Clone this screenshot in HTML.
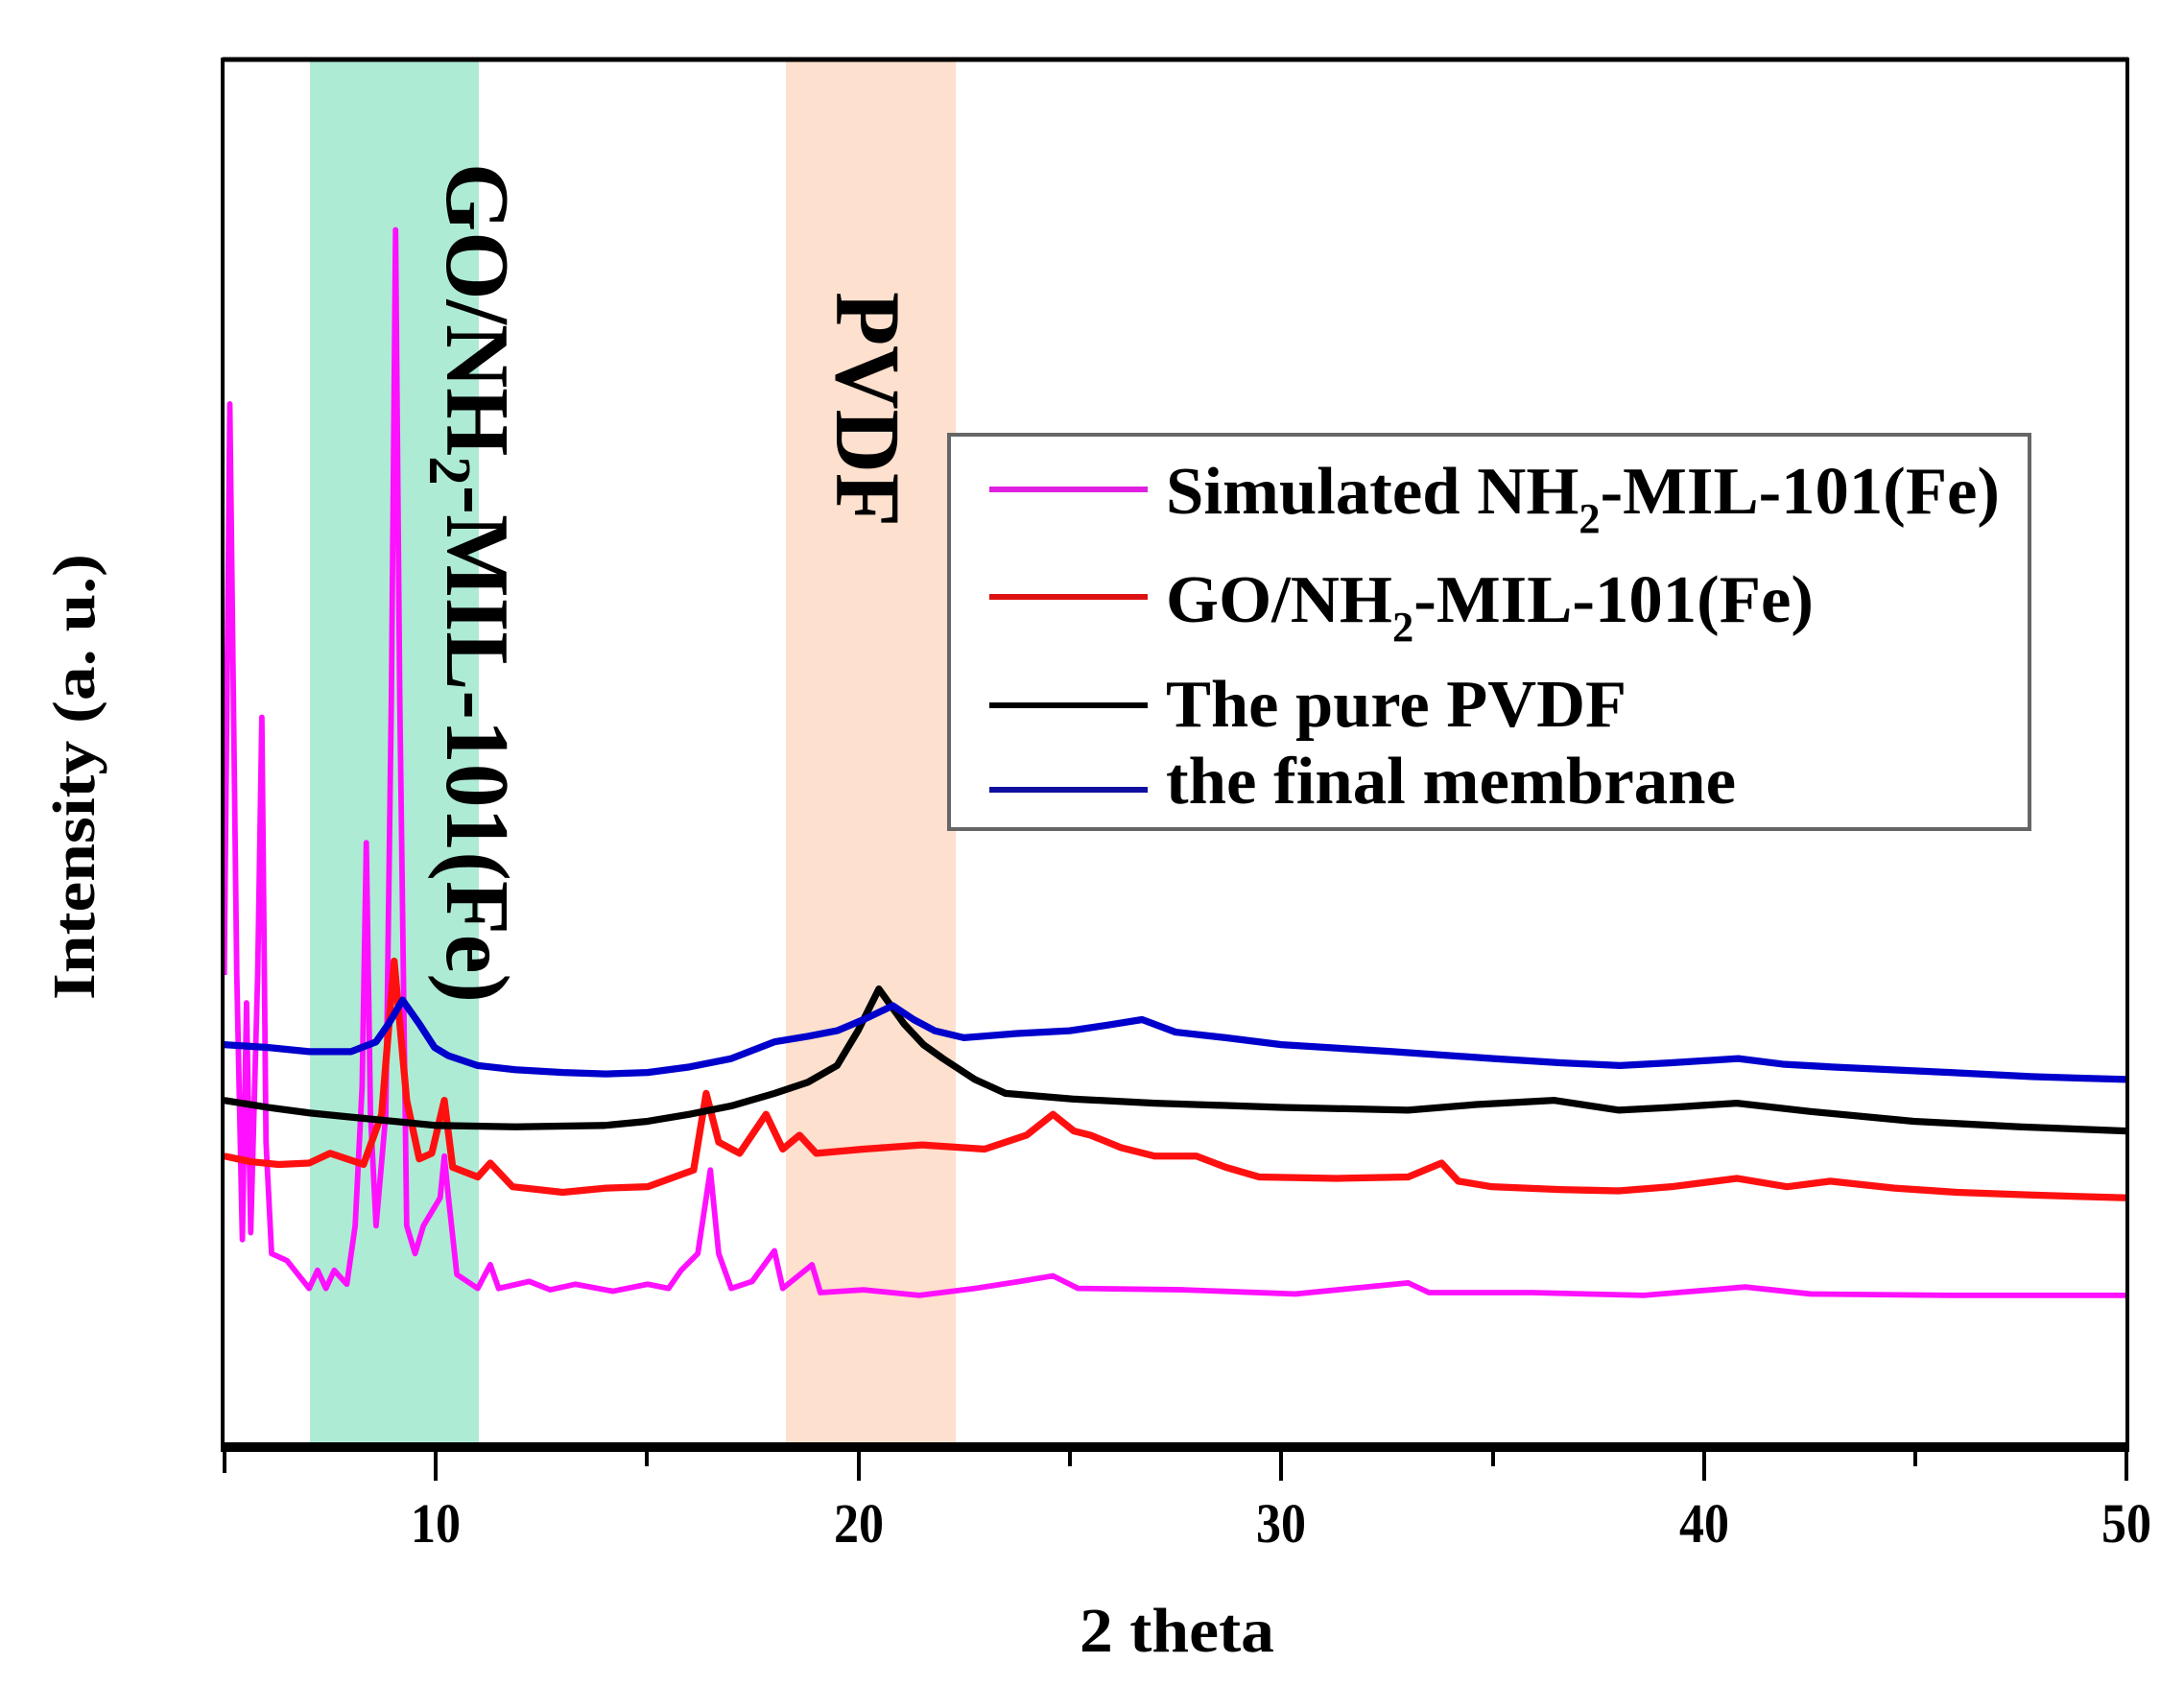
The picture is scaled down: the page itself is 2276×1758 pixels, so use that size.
<!DOCTYPE html>
<html><head><meta charset="utf-8"><style>html,body{margin:0;padding:0;background:#fff}svg{display:block}</style></head>
<body>
<svg width="2276" height="1758" viewBox="0 0 2276 1758" xmlns="http://www.w3.org/2000/svg" font-family="Liberation Serif, serif" font-weight="bold">
<rect x="0" y="0" width="2276" height="1758" fill="#fff"/>
<rect x="323" y="62" width="176" height="1447" fill="#aeebd4"/>
<rect x="819" y="62" width="177" height="1447" fill="#fde0cd"/>
<g transform="scale(1.4515)" fill="none" stroke-width="5" stroke-linejoin="round">
<polyline stroke="#ff10ff" stroke-width="4" points="161,700 165,290 170,700 174,890 177,720 180,885 185,700 188,515 191,820 195,900 206,905 222,925 228,912 234,925 240,912 249,922 255,880 260,780 263,605 266,800 270,880 277,800 281,500 284,165 287,500 292,880 298,900 304,880 310,870 316,860 319,830 322,860 328,915 343,925 352,908 358,925 380,920 395,926 413,922 440,927 465,922 480,925 489,912 501,900 510,840 516,900 525,925 540,920 556,898 562,925 583,908 589,928 620,926 660,930 700,925 732,920 756,916 774,925 850,926 930,929 1011,921 1026,928 1100,928 1180,930 1253,924 1300,929 1400,930 1527,930"/>
<polyline stroke="#ff1010" points="161,830 180,834 200,836 222,835 237,828 261,836 274,800 283,690 292,790 301,832 310,828 319,790 325,838 343,845 352,835 368,852 404,856 435,853 465,852 498,840 507,785 516,820 531,828 550,800 562,825 574,815 586,828 620,825 662,822 707,825 737,815 756,800 771,812 783,815 805,824 829,830 859,830 880,838 904,845 960,846 1011,845 1035,835 1047,848 1071,852 1120,854 1162,855 1200,852 1247,846 1283,852 1314,848 1360,853 1405,856 1460,858 1527,860"/>
<polyline stroke="#000" points="161,790 192,795 222,799 252,802 313,808 370,809 434,808 465,805 495,800 525,794 556,785 580,777 601,765 616,740 631,710 649,735 663,750 677,760 700,775 722,785 770,789 829,792 920,795 1011,797 1060,793 1116,790 1162,797 1200,795 1247,792 1300,798 1374,805 1450,809 1527,812"/>
<polyline stroke="#0000cc" points="161,750 192,752 222,755 252,755 270,748 279,735 289,718 301,735 312,752 322,758 343,765 370,768 404,770 435,771 465,770 495,766 525,760 556,748 580,744 601,740 620,732 641,722 656,732 671,740 692,745 730,742 768,740 795,736 820,732 844,741 880,745 920,750 1000,755 1072,760 1120,763 1163,765 1200,763 1248,760 1280,764 1315,766 1400,770 1460,773 1527,775"/>
</g>
<g stroke="#000" fill="none">
<line x1="232" y1="62" x2="2218" y2="62" stroke-width="5"/>
<line x1="232" y1="60" x2="232" y2="1512" stroke-width="4"/>
<line x1="2217" y1="60" x2="2217" y2="1512" stroke-width="4"/>
<line x1="230" y1="1508" x2="2219" y2="1508" stroke-width="10"/>
<g stroke-width="4">
<line x1="234" y1="1508" x2="234" y2="1535"/>
<line x1="454" y1="1508" x2="454" y2="1543"/>
<line x1="674" y1="1508" x2="674" y2="1528"/>
<line x1="895" y1="1508" x2="895" y2="1543"/>
<line x1="1115" y1="1508" x2="1115" y2="1528"/>
<line x1="1335" y1="1508" x2="1335" y2="1543"/>
<line x1="1556" y1="1508" x2="1556" y2="1528"/>
<line x1="1776" y1="1508" x2="1776" y2="1543"/>
<line x1="1996" y1="1508" x2="1996" y2="1528"/>
<line x1="2216" y1="1508" x2="2216" y2="1543"/>
</g></g>
<g font-size="58" text-anchor="middle" fill="#000">
<text x="454" y="1607" textLength="52" lengthAdjust="spacingAndGlyphs">10</text>
<text x="895" y="1607" textLength="52" lengthAdjust="spacingAndGlyphs">20</text>
<text x="1335" y="1607" textLength="52" lengthAdjust="spacingAndGlyphs">30</text>
<text x="1776" y="1607" textLength="52" lengthAdjust="spacingAndGlyphs">40</text>
<text x="2216" y="1607" textLength="52" lengthAdjust="spacingAndGlyphs">50</text>
</g>
<text x="1125" y="1721" font-size="66" textLength="203" lengthAdjust="spacingAndGlyphs">2 theta</text>
<text transform="translate(98,1042) rotate(-90)" font-size="62" textLength="465" lengthAdjust="spacingAndGlyphs">Intensity (a. u.)</text>
<text transform="translate(466,170) rotate(90)" font-size="94" textLength="875" lengthAdjust="spacingAndGlyphs">GO/NH<tspan font-size="62" dy="18">2</tspan><tspan dy="-18">-MIL-101(Fe)</tspan></text>
<text transform="translate(872,304) rotate(90)" font-size="96" textLength="245" lengthAdjust="spacingAndGlyphs">PVDF</text>
<rect x="989" y="453" width="1126" height="411" fill="#fff" stroke="#666" stroke-width="4"/>
<g stroke-width="6">
<line x1="1031" y1="510" x2="1196" y2="510" stroke="#e020e0"/>
<line x1="1031" y1="622" x2="1196" y2="622" stroke="#dd1111"/>
<line x1="1031" y1="735" x2="1196" y2="735" stroke="#000"/>
<line x1="1031" y1="823" x2="1196" y2="823" stroke="#1010a0"/>
</g>
<g font-size="70" fill="#000">
<text x="1215" y="535" textLength="869" lengthAdjust="spacingAndGlyphs">Simulated NH<tspan font-size="44" dy="20">2</tspan><tspan dy="-20">-MIL-101(Fe)</tspan></text>
<text x="1215" y="648" textLength="675" lengthAdjust="spacingAndGlyphs">GO/NH<tspan font-size="44" dy="20">2</tspan><tspan dy="-20">-MIL-101(Fe)</tspan></text>
<text x="1215" y="757" textLength="480" lengthAdjust="spacingAndGlyphs">The pure PVDF</text>
<text x="1215" y="837" textLength="594" lengthAdjust="spacingAndGlyphs">the final membrane</text>
</g>
</svg>
</body></html>
